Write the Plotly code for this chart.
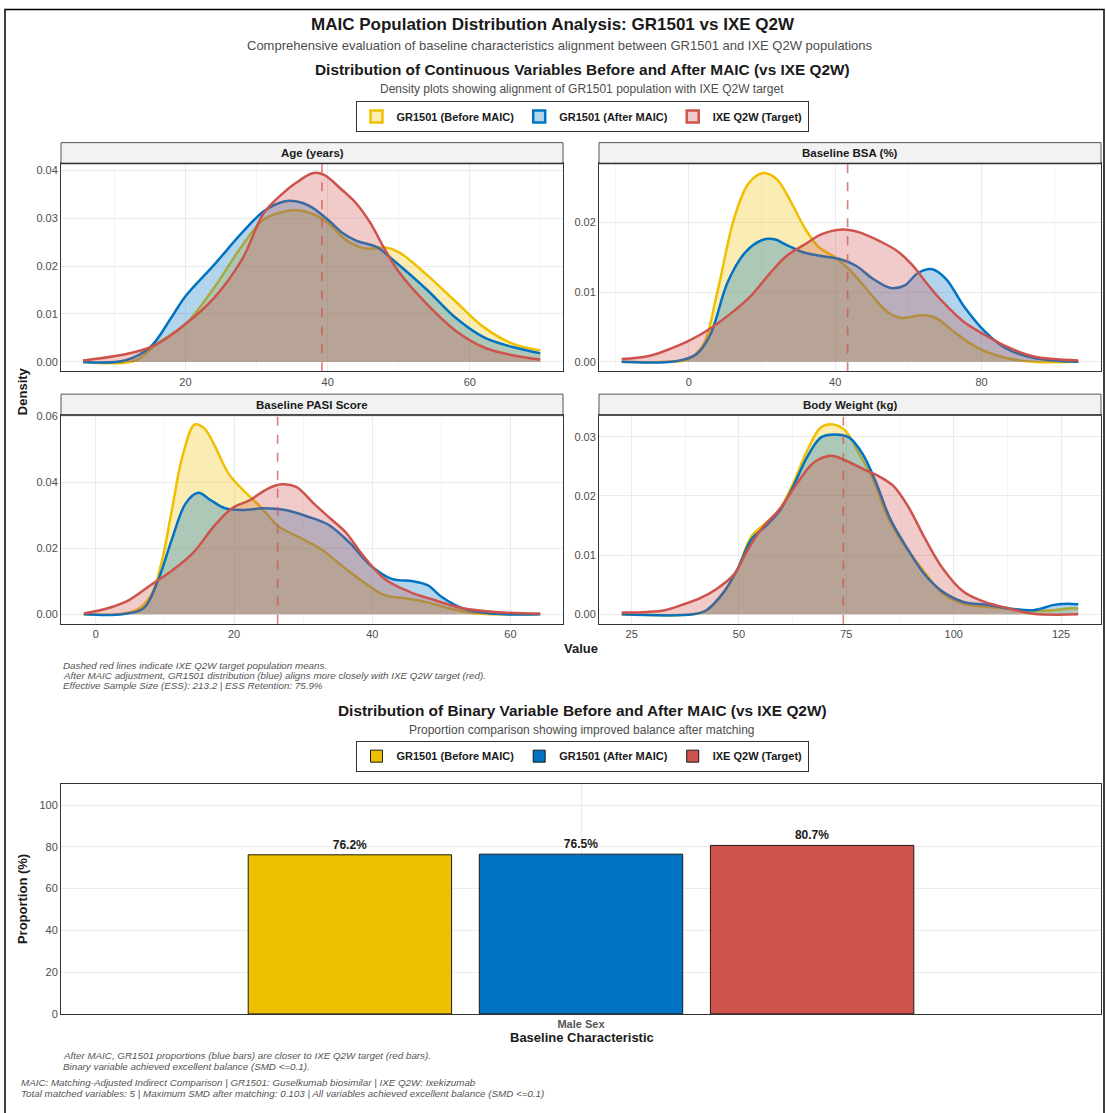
import plotly.graph_objects as go

# ---------------- DATA ----------------
groups = ["GR1501 (Before MAIC)", "GR1501 (After MAIC)", "IXE Q2W (Target)"]
line_colors = ["#EFC000", "#0073C2", "#CD534C"]
fill_colors = ["rgba(239,192,0,0.3)", "rgba(0,115,194,0.3)", "rgba(205,83,76,0.3)"]

panel_titles = ["Age (years)", "Baseline BSA (%)", "Baseline PASI Score", "Body Weight (kg)"]
target_means = [39.2, 43.4, 26.3, 74.3]

# Age (years)
age_before_x = [5.6, 13, 16, 20, 24, 28, 31, 34, 36, 38, 40, 43, 45.5, 48, 50, 54, 58, 62, 66, 69.9]
age_before_y = [0.0, 0.0003, 0.0038, 0.0079, 0.0154, 0.0243, 0.0297, 0.0314, 0.0316, 0.0308, 0.029, 0.025, 0.0236, 0.0239, 0.0229, 0.0181, 0.0126, 0.0072, 0.0038, 0.0024]
age_after_x = [5.6, 11.5, 15, 18, 20, 24, 28, 31, 34, 35.5, 37.5, 40, 42, 44, 47, 49, 54, 58, 62, 66, 69.9]
age_after_y = [0.0, 0.0003, 0.003, 0.0092, 0.0137, 0.0202, 0.027, 0.0314, 0.0335, 0.0335, 0.0325, 0.0297, 0.027, 0.0253, 0.0239, 0.0215, 0.015, 0.0092, 0.0051, 0.0031, 0.0018]
age_target_x = [5.6, 15, 20, 24, 28, 31, 33.5, 35.5, 38, 39.5, 42, 44, 46, 48, 50, 54, 58, 62, 66, 69.9]
age_target_y = [0.0003, 0.003, 0.0079, 0.0133, 0.0215, 0.031, 0.0349, 0.0373, 0.0394, 0.039, 0.0359, 0.0331, 0.029, 0.0236, 0.0188, 0.012, 0.0065, 0.003, 0.0014, 0.0005]

# Baseline BSA (%)
bsa_before_x = [-18.3, -6.4, 0, 4, 7.8, 12.5, 16.3, 20.1, 23.9, 27.7, 31.5, 35.3, 40, 43.8, 48.5, 54.2, 58, 63.7, 67.5, 72.2, 78.9, 86.4, 94, 106.4]
bsa_before_y = [0.0, 0.0, 0.0004, 0.0025, 0.01, 0.0208, 0.0256, 0.0271, 0.0263, 0.0232, 0.0194, 0.0166, 0.015, 0.0133, 0.0105, 0.0072, 0.0063, 0.0067, 0.0063, 0.0044, 0.002, 0.0006, 0.0, 0.0]
bsa_after_x = [-18.3, -3.6, 2.1, 5.9, 10.6, 15.4, 20.1, 23.4, 26.7, 31.5, 36.2, 41, 45.7, 50.4, 55.2, 59, 62.7, 66.5, 70.3, 75, 80.8, 86.4, 94, 106.4]
bsa_after_y = [0.0, 0.0001, 0.0011, 0.0039, 0.0114, 0.0157, 0.0175, 0.0176, 0.0168, 0.0157, 0.0152, 0.0148, 0.0138, 0.0119, 0.0106, 0.011, 0.0128, 0.0133, 0.0119, 0.0081, 0.0044, 0.002, 0.0006, 0.0]
bsa_target_x = [-18.3, -11.2, -6.4, 0, 5.9, 11.6, 17.2, 22, 26.7, 31.5, 36.2, 41.9, 46.6, 52.3, 57, 60.9, 65.6, 69.4, 75, 80.8, 86.4, 94, 106.4]
bsa_target_y = [0.0004, 0.0008, 0.0016, 0.003, 0.0048, 0.007, 0.0096, 0.0126, 0.0152, 0.0168, 0.0183, 0.019, 0.0186, 0.0173, 0.0159, 0.014, 0.0109, 0.0086, 0.0058, 0.0039, 0.0023, 0.0008, 0.0002]

# Baseline PASI Score
pasi_before_x = [-1.75, 3.3, 5.9, 8, 9.5, 11, 12.5, 14.3, 15.6, 17.1, 19.2, 21.8, 23.8, 26.4, 29.5, 32.6, 35.6, 38.7, 41.8, 44.9, 48, 51.1, 54.6, 58.2, 64.3]
pasi_before_y = [0.0, 0.0, 0.0013, 0.0058, 0.0157, 0.0316, 0.0476, 0.0575, 0.0565, 0.0515, 0.0426, 0.0366, 0.0326, 0.0267, 0.0232, 0.0197, 0.0147, 0.0098, 0.0058, 0.0048, 0.0036, 0.0018, 0.0003, 0.0, 0.0]
pasi_after_x = [-1.75, 3.8, 6.9, 8.9, 11, 13, 14.8, 16.6, 18.7, 21.3, 24.3, 27.4, 30.5, 33.6, 36.7, 39.8, 42.8, 45.9, 48, 50, 53.1, 57.2, 64.3]
pasi_after_y = [0.0, 0.0, 0.0018, 0.0098, 0.0227, 0.0336, 0.0368, 0.0346, 0.0321, 0.0316, 0.0321, 0.0316, 0.0297, 0.0272, 0.0217, 0.0147, 0.0107, 0.01, 0.0088, 0.0053, 0.0018, 0.0002, 0.0]
pasi_target_x = [-1.75, 1.7, 4.8, 7.9, 11, 14.1, 17.1, 19.7, 22.3, 24.9, 26.9, 29, 31.5, 34.1, 36.2, 38.7, 41.8, 45.4, 49, 53.1, 58.2, 64.3]
pasi_target_y = [0.0002, 0.0018, 0.0043, 0.0088, 0.0132, 0.0187, 0.0267, 0.0321, 0.0346, 0.0381, 0.0394, 0.0386, 0.0336, 0.0287, 0.0247, 0.0177, 0.0107, 0.0068, 0.0043, 0.0018, 0.0006, 0.0002]

# Body Weight (kg)
wt_before_x = [22.7, 39.2, 42.4, 46.5, 49.7, 52.9, 56.2, 59.4, 62.6, 65.9, 69.1, 71.9, 74.8, 78, 81.3, 84.5, 88.6, 92.6, 97.5, 102.3, 107.2, 112, 117.7, 123.4, 126.6, 129]
wt_before_y = [0.0, 0.0, 0.0006, 0.0038, 0.0077, 0.0132, 0.0154, 0.0177, 0.0221, 0.0277, 0.0316, 0.0321, 0.031, 0.0271, 0.0227, 0.0166, 0.0116, 0.0077, 0.0035, 0.0018, 0.0013, 0.001, 0.0006, 0.0007, 0.001, 0.001]
wt_after_x = [22.7, 39.2, 42.4, 46.5, 49.7, 52.9, 56.2, 59.4, 62.6, 65.9, 69.1, 72.3, 75.6, 78.8, 82, 85.3, 89.3, 93.4, 97.5, 102.3, 108, 112.9, 118.5, 123.4, 126.6, 129]
wt_after_y = [0.0, 0.0, 0.0007, 0.0038, 0.0077, 0.0127, 0.0149, 0.0174, 0.0216, 0.0266, 0.0299, 0.0304, 0.0299, 0.0271, 0.0221, 0.016, 0.011, 0.0066, 0.0038, 0.0021, 0.0016, 0.001, 0.0007, 0.0016, 0.0018, 0.0017]
wt_target_x = [22.7, 28.6, 32.7, 36.7, 40.8, 44.8, 48.9, 52.1, 55.4, 59.4, 63.5, 67.5, 71.5, 74.8, 78.8, 82.9, 86.1, 89.4, 93.4, 97.5, 102.3, 107.2, 112.9, 118.5, 129]
wt_target_y = [0.0003, 0.0004, 0.0007, 0.0016, 0.0027, 0.0043, 0.0068, 0.011, 0.0146, 0.0177, 0.0221, 0.0257, 0.0268, 0.026, 0.0246, 0.0232, 0.0216, 0.0182, 0.0127, 0.0077, 0.0038, 0.0021, 0.001, 0.0001, 0.0]

# Binary variable
binary_category = ["Male Sex"]
binary_values = [76.2, 76.5, 80.7]

# tick settings per panel
x_ticks = [[20, 40, 60], [0, 40, 80], [0, 20, 40, 60], [25, 50, 75, 100, 125]]
y_ticks = [[0, 0.01, 0.02, 0.03, 0.04], [0, 0.01, 0.02], [0, 0.02, 0.04, 0.06], [0, 0.01, 0.02, 0.03]]
x_ranges = [[2.5, 73.1], [-24.5, 112.6], [-5.05, 67.6], [17.4, 134.3]]
y_ranges = [[-0.00197, 0.0414], [-0.00136, 0.0285], [-0.0029, 0.0604], [-0.0016, 0.0337]]

panel_data = [
    [(age_before_x, age_before_y), (age_after_x, age_after_y), (age_target_x, age_target_y)],
    [(bsa_before_x, bsa_before_y), (bsa_after_x, bsa_after_y), (bsa_target_x, bsa_target_y)],
    [(pasi_before_x, pasi_before_y), (pasi_after_x, pasi_after_y), (pasi_target_x, pasi_target_y)],
    [(wt_before_x, wt_before_y), (wt_after_x, wt_after_y), (wt_target_x, wt_target_y)],
]

# ---------------- LAYOUT HELPERS ----------------
W, H = 1106, 1113
def px(x):
    return x / W
def py(y):
    return 1 - y / H

FONT = "Liberation Sans, Arial, Helvetica, sans-serif"
GRID = "#EBEBEB"
BORDER = "#333333"
TICKC = "#4D4D4D"

# panel pixel boxes: (x0, x1, strip_top, plot_top, plot_bottom)
boxes = [
    (61, 563, 139, 160, 370),
    (599, 1101, 139, 160, 370),
    (61, 563, 393, 414, 625),
    (599, 1101, 393, 414, 625),
]

fig = go.Figure()
layout = dict(
    width=W, height=H,
    margin=dict(l=0, r=0, t=0, b=0),
    paper_bgcolor="white", plot_bgcolor="white",
    font=dict(family=FONT, color="#222222"),
    showlegend=True,
    barmode="group", bargap=0.2, bargroupgap=0.12,
)

shapes = []
annotations = []

for i in range(4):
    x0, x1, st, pt, pb = boxes[i]
    ax = "" if i == 0 else str(i + 1)
    xa = "x" + ax
    ya = "y" + ax
    for g in range(3):
        xs, ys = panel_data[i][g]
        fig.add_trace(go.Scatter(
            x=xs, y=ys, mode="lines", fill="tozeroy",
            fillcolor=fill_colors[g],
            line=dict(color=line_colors[g], width=2.5, shape="spline", smoothing=1.0),
            xaxis=xa, yaxis=ya, showlegend=False, hoverinfo="skip",
        ))
    layout["xaxis" + ax] = dict(
        domain=[px(x0), px(x1)], anchor=ya, range=x_ranges[i],
        tickvals=x_ticks[i], showgrid=True, gridcolor=GRID, gridwidth=1,
        minor=dict(showgrid=True, gridcolor="#F5F5F5", dtick=(x_ticks[i][1] - x_ticks[i][0]) / 2,
                   tick0=x_ticks[i][0]),
        zeroline=False, showline=True, mirror=True, linecolor=BORDER, linewidth=1,
        ticks="", tickfont=dict(size=11, color=TICKC, family=FONT),
    )
    layout["yaxis" + ax] = dict(
        domain=[py(pb), py(pt)], anchor=xa, range=y_ranges[i],
        tickvals=y_ticks[i], tickformat=".2f", showgrid=True, gridcolor=GRID, gridwidth=1,
        zeroline=False, showline=True, mirror=True, linecolor=BORDER, linewidth=1,
        ticks="", tickfont=dict(size=11, color=TICKC, family=FONT),
    )
    # strip
    shapes.append(dict(type="rect", xref="paper", yref="paper",
                       x0=px(x0), x1=px(x1), y0=py(pt), y1=py(st),
                       fillcolor="#F2F2F2", line=dict(color="#555555", width=1), layer="above"))
    shapes.append(dict(type="line", xref="paper", yref="paper",
                       x0=px(x0), x1=px(x1), y0=py(pt), y1=py(pt),
                       line=dict(color=BORDER, width=1.5), layer="above"))
    annotations.append(dict(text="<b>" + panel_titles[i] + "</b>", xref="paper", yref="paper",
                            x=px((x0 + x1) / 2), y=py((st + pt) / 2), showarrow=False,
                            xanchor="center", yanchor="middle",
                            font=dict(size=11.5, color="#1A1A1A", family=FONT)))
    # target mean dashed line
    shapes.append(dict(type="line", xref=xa, yref=ya + " domain",
                       x0=target_means[i], x1=target_means[i], y0=0, y1=1,
                       line=dict(color="rgba(205,83,76,0.75)", width=1.6, dash="dash"), layer="above"))

# dummy legend entries for density section (legend 1)
for g in range(3):
    fig.add_trace(go.Bar(
        x=[None], y=[None], name=groups[g],
        marker=dict(color=fill_colors[g], line=dict(color=line_colors[g], width=2.5)),
        xaxis="x", yaxis="y", legend="legend", showlegend=True, hoverinfo="skip",
    ))

# Bars
for g in range(3):
    fig.add_trace(go.Bar(
        x=binary_category, y=[binary_values[g]], name=groups[g],
        marker=dict(color=line_colors[g], line=dict(color="#1A1A1A", width=1)),
        text=["<b>%.1f%%</b>" % binary_values[g]], textposition="outside",
        textfont=dict(size=12, color="#1A1A1A", family=FONT),
        cliponaxis=False,
        xaxis="x5", yaxis="y5", legend="legend2", hoverinfo="skip",
    ))

layout["xaxis5"] = dict(
    domain=[px(61), px(1101)], anchor="y5", type="category", range=[-0.6, 0.6],
    showgrid=True, gridcolor=GRID, zeroline=False, showline=True, mirror=True,
    linecolor=BORDER, linewidth=1, ticks="",
    tickfont=dict(size=11, color="#555555", family=FONT, weight="bold"),
)
layout["yaxis5"] = dict(
    domain=[py(1019), py(787)], anchor="x5", range=[0, 110],
    tickvals=[0, 20, 40, 60, 80, 100], showgrid=True, gridcolor=GRID,
    zeroline=False, showline=True, mirror=True, linecolor=BORDER, linewidth=1,
    ticks="", tickfont=dict(size=11, color=TICKC, family=FONT),
)

legend_style = dict(orientation="h", xanchor="center", yanchor="top",
                    bordercolor="#333333", borderwidth=1, bgcolor="white",
                    font=dict(size=11, color="#1A1A1A", family=FONT, weight="bold"),
                    itemwidth=30, traceorder="normal")
layout["legend"] = dict(legend_style, x=px(582), y=py(97))
layout["legend2"] = dict(legend_style, x=px(582), y=py(743))

def txt(s, x, y, size, color="#1A1A1A", bold=False, italic=False, xanchor="center", angle=0):
    if bold:
        s = "<b>" + s + "</b>"
    if italic:
        s = "<i>" + s + "</i>"
    annotations.append(dict(text=s, xref="paper", yref="paper", x=px(x), y=py(y),
                            showarrow=False, xanchor=xanchor, yanchor="middle",
                            textangle=angle, font=dict(size=size, color=color, family=FONT)))

txt("MAIC Population Distribution Analysis: GR1501 vs IXE Q2W", 553, 20, 17, bold=True)
txt("Comprehensive evaluation of baseline characteristics alignment between GR1501 and IXE Q2W populations", 560, 41, 13, color="#4D4D4D")
txt("Distribution of Continuous Variables Before and After MAIC (vs IXE Q2W)", 582, 65.5, 15.4, bold=True)
txt("Density plots showing alignment of GR1501 population with IXE Q2W target", 582, 85, 12, color="#4D4D4D")
txt("Density", 22, 390, 13, bold=True, angle=-90)
txt("Value", 581, 650, 13, bold=True)
txt("Dashed red lines indicate IXE Q2W target population means.", 61, 667, 9.8, color="#555555", italic=True, xanchor="left")
txt("After MAIC adjustment, GR1501 distribution (blue) aligns more closely with IXE Q2W target (red).", 61, 677, 9.8, color="#555555", italic=True, xanchor="left")
txt("Effective Sample Size (ESS): 213.2 | ESS Retention: 75.9%", 61, 687, 9.8, color="#555555", italic=True, xanchor="left")

txt("Distribution of Binary Variable Before and After MAIC (vs IXE Q2W)", 582, 713, 15.4, bold=True)
txt("Proportion comparison showing improved balance after matching", 582, 732, 12, color="#4D4D4D")
txt("Proportion (%)", 22, 903, 13, bold=True, angle=-90)
txt("Baseline Characteristic", 582, 1043, 13, bold=True)
txt("After MAIC, GR1501 proportions (blue bars) are closer to IXE Q2W target (red bars).", 61, 1061, 9.8, color="#555555", italic=True, xanchor="left")
txt("Binary variable achieved excellent balance (SMD <=0.1).", 61, 1072, 9.8, color="#555555", italic=True, xanchor="left")
txt("MAIC: Matching-Adjusted Indirect Comparison | GR1501: Guselkumab biosimilar | IXE Q2W: Ixekizumab", 19, 1088, 9.8, color="#555555", italic=True, xanchor="left")
txt("Total matched variables: 5 | Maximum SMD after matching: 0.103 | All variables achieved excellent balance (SMD <=0.1)", 19, 1099, 9.8, color="#555555", italic=True, xanchor="left")

# outer frame (bottom edge lies below the visible page)
shapes.append(dict(type="rect", xref="paper", yref="paper", x0=px(5), x1=px(1104), y0=-0.02, y1=py(4.5),
                   line=dict(color="black", width=1.5), fillcolor="rgba(0,0,0,0)", layer="above"))

layout["shapes"] = shapes
layout["annotations"] = annotations
fig.update_layout(**layout)

fig.write_html("out.html", config={"displayModeBar": False},
               post_script="document.body.style.margin='0';document.body.style.overflow='hidden';")
